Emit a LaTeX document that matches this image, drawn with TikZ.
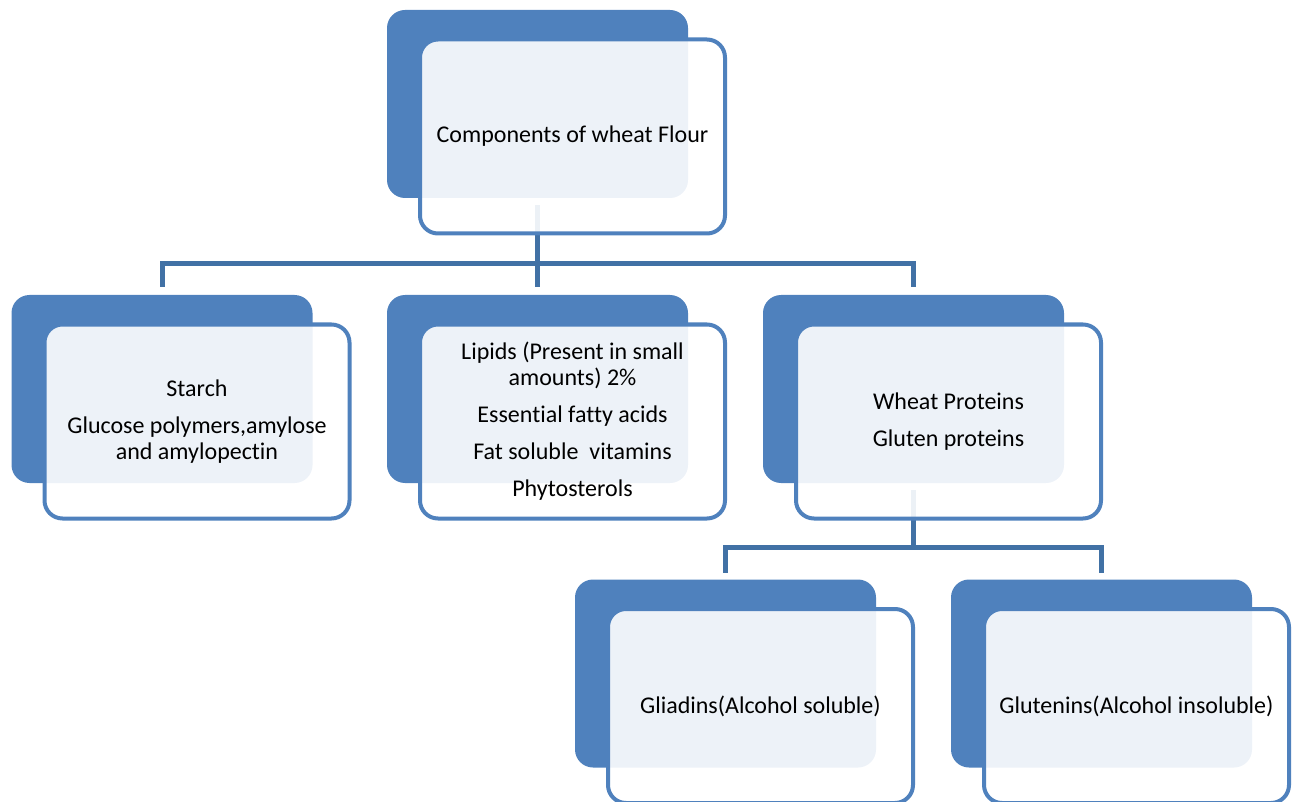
\documentclass[tikz,border=0pt]{standalone}
\usepackage{fontspec}
\setmainfont{Carlito}[Ligatures=NoCommon]
\definecolor{boxblue}{RGB}{79,129,189}
\definecolor{linkblue}{RGB}{65,113,165}
\tikzset{
  backbox/.style={fill=boxblue, rounded corners=18pt, minimum width=301pt, minimum height=188pt, inner sep=0pt},
  frontbox/.style={draw=boxblue, line width=4pt, fill=white, fill opacity=0.9, text opacity=1,
    rounded corners=18pt, minimum width=305pt, minimum height=194pt, inner sep=0pt,
    align=center, font=\fontsize{24}{26}\selectfont},
  link/.style={draw=linkblue, line width=5pt}
}
\begin{document}
\begin{tikzpicture}[x=1pt, y=-1pt]
      \useasboundingbox (0,0) rectangle (1293,802);
      \node[backbox] (topback) at (537.5,104) {};
      \node[backbox] (starchback) at (162,389) {};
      \node[backbox] (lipidsback) at (537.5,389) {};
      \node[backbox] (wheatback) at (913.5,389) {};
      \node[backbox] (gliadinsback) at (725.5,673.5) {};
      \node[backbox] (gluteninsback) at (1101.5,673.5) {};

      % connectors sit under the front boxes
      \draw[link] ([yshift=-7pt]topback.south) -- ++(0,58) -| ([yshift=8pt]starchback.north);
      \draw[link] ([yshift=-7pt]topback.south) -- ++(0,58) -| ([yshift=8pt]wheatback.north);
      \draw[link] ([yshift=-7pt]topback.south) -- ([yshift=8pt]lipidsback.north);
      \draw[link] ([yshift=-7pt]wheatback.south) -- ++(0,57) -| ([yshift=6pt]gliadinsback.north);
      \draw[link] ([yshift=-7pt]wheatback.south) -- ++(0,57) -| ([yshift=6pt]gluteninsback.north);

      \node[frontbox] (top) at (572.5,136.5) {Components of wheat Flour};
      \node[frontbox] (starch) at (197,421.5) {Starch\\[11pt]Glucose polymers,amylose\\and amylopectin};
      \node[frontbox] (lipids) at (572.5,421.5) {Lipids (Present in small\\amounts) 2\%\\[11pt]Essential fatty acids\\[11pt]Fat soluble~ vitamins\\[11pt]Phytosterols};
      \node[frontbox] (wheat) at (948.5,421.5) {Wheat Proteins\\[11pt]Gluten proteins};
      \node[frontbox] (gliadins) at (760.5,706) {Gliadins(Alcohol soluble)};
      \node[frontbox] (glutenins) at (1136.5,706) {Glutenins(Alcohol insoluble)};
    \end{tikzpicture}
\end{document}
